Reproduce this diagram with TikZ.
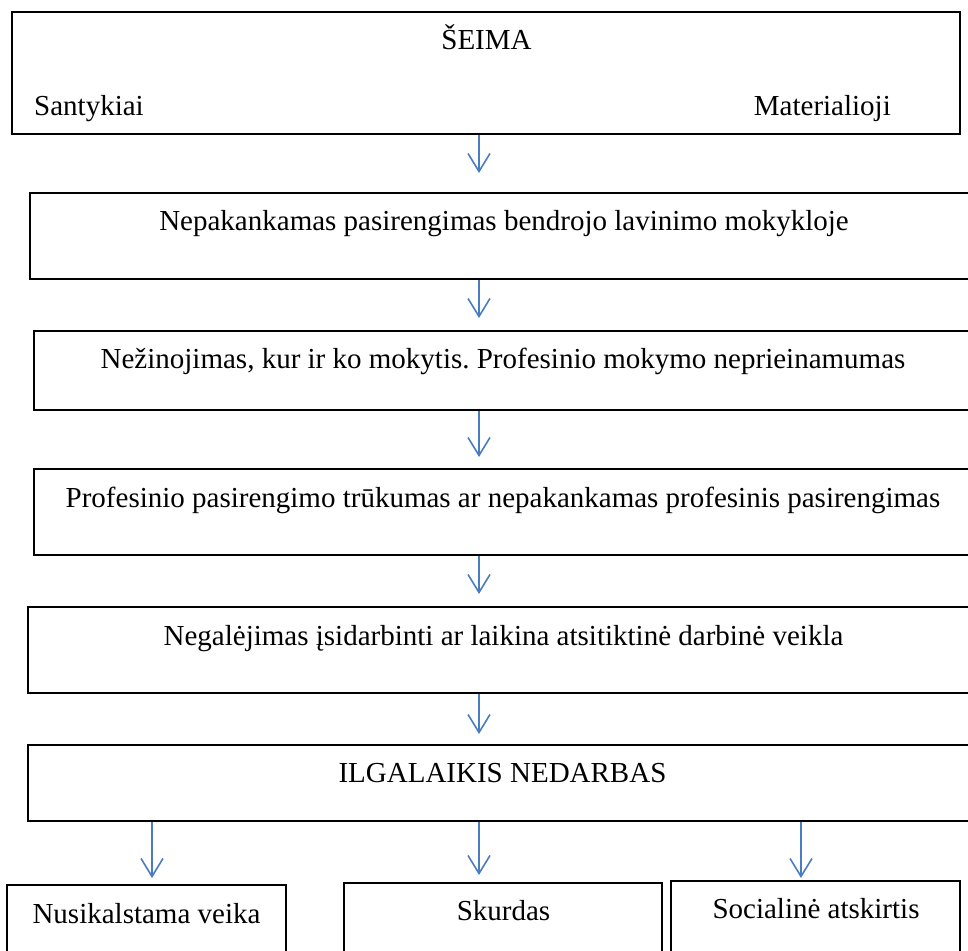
\documentclass[tikz,border=0pt]{standalone}
\usepackage{fontspec}
\setmainfont{Liberation Serif}
\usetikzlibrary{arrows.meta}
\definecolor{arrblue}{RGB}{74,124,192}
\frenchspacing
\tikzset{
  box/.style={draw=black, line width=2.2pt, rectangle, inner sep=0pt, fill=none},
  txt/.style={anchor=base, inner sep=0pt, font=\fontsize{29}{34}\selectfont},
  arr/.style={draw=arrblue, line width=1.6pt, -{Straight Barb[length=18pt,width=22pt,line width=1.6pt]}}
}
\begin{document}
\begin{tikzpicture}[x=1pt,y=-1pt]
\useasboundingbox (0,0) rectangle (968,950);
% boxes
\node[box, minimum width=948pt, minimum height=122pt] (b1) at (486,73) {};
\node[box, minimum width=948pt, minimum height=86pt] (b2) at (504,236) {};
\node[box, minimum width=941pt, minimum height=79pt] (b3) at (504.5,370.5) {};
\node[box, minimum width=941pt, minimum height=86pt] (b4) at (504.5,512) {};
\node[box, minimum width=950pt, minimum height=86pt] (b5) at (503,650) {};
\node[box, minimum width=950pt, minimum height=76pt] (b6) at (503,783) {};
\node[box, minimum width=279pt, minimum height=75pt] (ba) at (146.5,922.5) {};
\node[box, minimum width=318pt, minimum height=77pt] (bb) at (503,921.5) {};
\node[box, minimum width=289pt, minimum height=79pt] (bc) at (815.5,920.5) {};
% texts
\node[txt] (t1) at (486.5,50) {ŠEIMA};
\node[txt, anchor=base west] (t1a) at (34,115) {Santykiai};
\node[txt, anchor=base east] (t1b) at (891,115) {Materialioji};
\node[txt] (t2) at (504,230) {Nepakankamas pasirengimas bendrojo lavinimo mokykloje};
\node[txt] (t3) at (503,368) {Nežinojimas, kur ir ko mokytis. Profesinio mokymo neprieinamumas};
\node[txt] (t4) at (503,507) {Profesinio pasirengimo trūkumas ar nepakankamas profesinis pasirengimas};
\node[txt] (t5) at (503.5,645) {Negalėjimas įsidarbinti ar laikina atsitiktinė darbinė veikla};
\node[txt] (t6) at (502.5,782) {ILGALAIKIS NEDARBAS};
\node[txt] (ta) at (146.5,923) {Nusikalstama veika};
\node[txt] (tb) at (503.5,920) {Skurdas};
\node[txt] (tc) at (816,918) {Socialinė atskirtis};
% arrow tips
\coordinate (p1) at (479,173);
\coordinate (p2) at (479,318);
\coordinate (p3) at (479,457);
\coordinate (p4) at (479,594);
\coordinate (p5) at (479,734);
\coordinate (pa) at (152,878);
\coordinate (pb) at (479,875);
\coordinate (pc) at (801,878);
% connectors
\draw[arr] (b1.south -| p1) -- (p1);
\draw[arr] (b2.south -| p2) -- (p2);
\draw[arr] (b3.south -| p3) -- (p3);
\draw[arr] (b4.south -| p4) -- (p4);
\draw[arr] (b5.south -| p5) -- (p5);
\draw[arr] (b6.south -| pa) -- (pa);
\draw[arr] (b6.south -| pb) -- (pb);
\draw[arr] (b6.south -| pc) -- (pc);
\end{tikzpicture}
\end{document}
